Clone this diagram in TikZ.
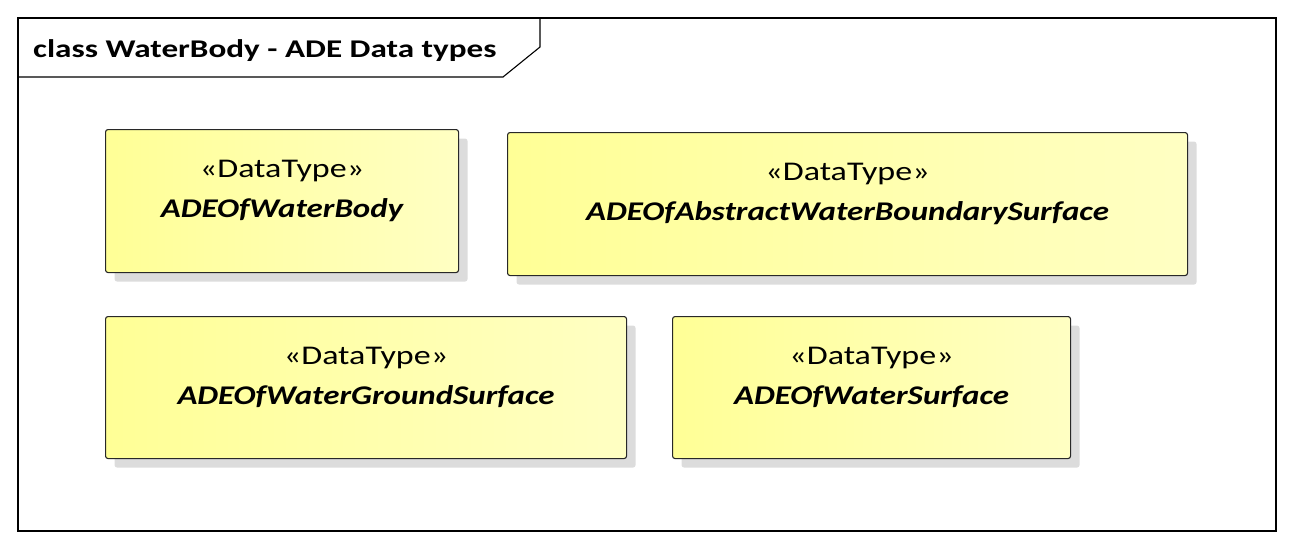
\documentclass[tikz,border=0pt]{standalone}
\usepackage{fontspec}
\setmainfont{Carlito}
\newfontfamily\wide[FakeStretch=1.22]{Carlito}
\newfontfamily\wider[FakeStretch=1.26]{Carlito}
\newfontfamily\widetitle[FakeStretch=1.3]{Carlito}
\usetikzlibrary{shadows,calc}
\definecolor{boxL}{RGB}{255,255,150}
\definecolor{boxR}{RGB}{255,255,195}
\definecolor{shad}{RGB}{220,220,220}
\definecolor{edge}{RGB}{40,40,40}
\tikzset{
  dtbox/.style={draw=edge, line width=1.1pt, rounded corners=2.5pt, left color=boxL, right color=boxR,
    drop shadow={shadow xshift=9pt, shadow yshift=-9pt, fill=shad, opacity=1},
    inner sep=0pt, anchor=north west},
  stereo/.style={anchor=base, inner sep=0pt, font=\wider\fontsize{27}{30}\selectfont},
  dtname/.style={anchor=base, inner sep=0pt, font=\wide\fontsize{27}{30}\selectfont\bfseries\itshape},
  frameline/.style={draw=black, line width=1.1pt}
}
\begin{document}
\begin{tikzpicture}[x=1pt,y=-1pt]
\useasboundingbox (0,0) rectangle (1293,549);
\draw[frameline] (18,18) rectangle (1276,531);
\coordinate (t1) at (18,77);
\coordinate (t2) at (503,77);
\coordinate (t3) at (540,47);
\coordinate (t4) at (540,18);
\draw[frameline] (t1) -- (t2) -- (t3) -- (t4);
\node[anchor=base west, inner sep=0pt, font=\widetitle\fontsize{25.5}{28}\selectfont\bfseries] (title) at (33,57) {class WaterBody - ADE Data types};
% boxes
\node[dtbox, minimum width=353pt, minimum height=143pt] (b1) at (105,129) {};
\node[dtbox, minimum width=680pt, minimum height=143pt] (b2) at (507,132) {};
\node[dtbox, minimum width=521pt, minimum height=142pt] (b3) at (105,316) {};
\node[dtbox, minimum width=398pt, minimum height=142pt] (b4) at (672,316) {};
% texts
\node[stereo] (s1) at ($(b1.north)+(0,48)$) {«DataType»};
\node[dtname] (n1) at ($(b1.north)+(0,88)$) {ADEOfWaterBody};
\node[stereo] (s2) at ($(b2.north)+(0,48)$) {«DataType»};
\node[dtname] (n2) at ($(b2.north)+(0,88)$) {ADEOfAbstractWaterBoundarySurface};
\node[stereo] (s3) at ($(b3.north)+(0,48)$) {«DataType»};
\node[dtname] (n3) at ($(b3.north)+(0,88)$) {ADEOfWaterGroundSurface};
\node[stereo] (s4) at ($(b4.north)+(0,48)$) {«DataType»};
\node[dtname] (n4) at ($(b4.north)+(0,88)$) {ADEOfWaterSurface};
\end{tikzpicture}
\end{document}
